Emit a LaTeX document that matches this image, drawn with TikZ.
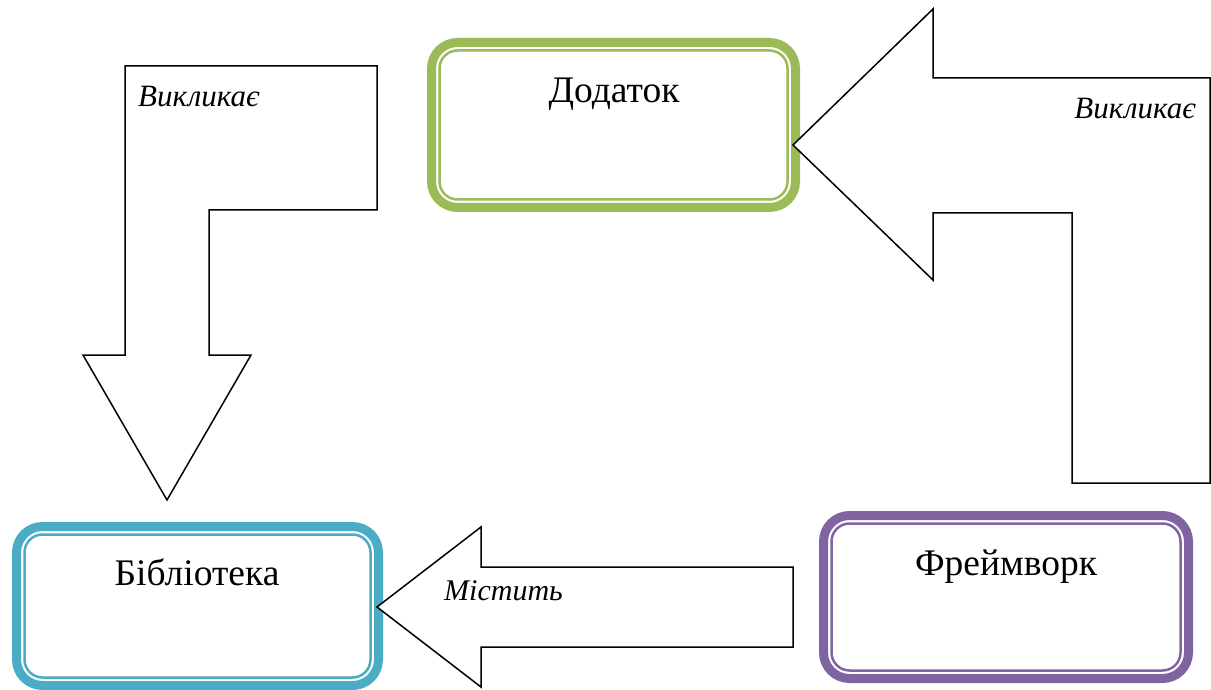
\documentclass[tikz,border=0pt]{standalone}
\usepackage{fontspec}
\setmainfont{Liberation Serif}
\begin{document}
\begin{tikzpicture}[x=1pt,y=-1pt,
  boxframe/.style={draw=#1, line width=9pt, rounded corners=26pt, fill=white, outer sep=0pt},
  boxtext/.style={font=\fontsize{37.5}{42}\selectfont, inner sep=0pt},
  arrowlabel/.style={font=\fontsize{31}{36}\selectfont\itshape, inner sep=0pt},
  blockarrow/.style={draw=black, line width=1.5pt, fill=white, line join=miter}]
\definecolor{appgreen}{HTML}{9BBB59}
\definecolor{libblue}{HTML}{4BACC6}
\definecolor{fwpurple}{HTML}{8064A2}
\useasboundingbox (0,0) rectangle (1211,690);

% framed boxes: thick outer band plus a thin inner line
\node[boxframe=appgreen, minimum width=364pt, minimum height=165pt] (app) at (613.5,125) {};
\node[boxframe=libblue,  minimum width=362pt, minimum height=159pt] (lib) at (197.5,606) {};
\node[boxframe=fwpurple, minimum width=365pt, minimum height=163pt] (fw)  at (1006,597) {};
\foreach \n/\c in {app/appgreen, lib/libblue, fw/fwpurple}
  \draw[\c, line width=2.5pt, rounded corners=18pt]
    ([shift={(8pt,-8pt)}]\n.north west) rectangle ([shift={(-8pt,8pt)}]\n.south east);

% block arrows
\draw[blockarrow] (125,66) -- (377,66) -- (377,210) -- (209,210) -- (209,355)
  -- (251,355) -- (167,500) -- (83,355) -- (125,355) -- cycle;
\draw[blockarrow] (793,145) -- (933,9) -- (933,78) -- (1210,78) -- (1210,483)
  -- (1072,483) -- (1072,213) -- (933,213) -- (933,280) -- cycle;
\draw[blockarrow] (377,607) -- (481,527) -- (481,567) -- (793,567) -- (793,647)
  -- (481,647) -- (481,687) -- cycle;

% box captions
\node[boxtext, anchor=base] (apptxt) at (614,103) {Додаток};
\node[boxtext, anchor=base] (libtxt) at (197,585) {Бібліотека};
\node[boxtext, anchor=base] (fwtxt)  at (1006,575) {Фреймворк};

% arrow captions
\node[arrowlabel, anchor=base west] (call1) at (138,107) {Викликає};
\node[arrowlabel, anchor=base east] (call2) at (1196,119) {Викликає};
\node[arrowlabel, anchor=base west, font=\fontsize{30}{34}\selectfont\itshape] (holds) at (444,600) {Містить};
\end{tikzpicture}
\end{document}
